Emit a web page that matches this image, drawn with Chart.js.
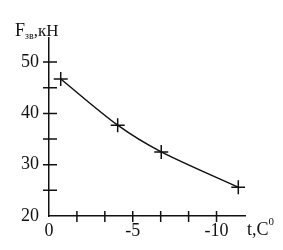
<!DOCTYPE html>
<html>
<head>
<meta charset="utf-8">
<script src="https://cdn.jsdelivr.net/npm/chart.js@4/dist/chart.umd.min.js"></script>
<style>
  html, body { margin: 0; padding: 0; background: #fff; }
  #wrap { width: 283px; height: 250px; }
</style>
</head>
<body>
<div id="wrap"><canvas id="chart" width="283" height="250"></canvas></div>
<script>
// Données
const tempC = [-0.7, -4.1, -6.7, -11.3];
const forceKN = [46.7, 37.7, 32.5, 25.6];

// Graduations
const yTicks = [20, 25, 30, 35, 40, 45, 50];
const yTickLabels = ['20', '', '30', '', '40', '', '50'];
const xTicks = [0, -5 / 3, -10 / 3, -5, -20 / 3, -25 / 3, -10];
const xTickLabels = ['0', '', '', '-5', '', '', '-10'];

const INK = '#111';
const FONT = 'Liberation Serif';

// Petites croix des graduations + titres des axes
const axisDecor = {
    id: 'axisDecor',
    afterDraw(chart) {
        const ctx = chart.ctx;
        const xs = chart.scales.x, ys = chart.scales.y;
        const area = chart.chartArea;
        ctx.save();
        ctx.strokeStyle = INK;
        ctx.lineWidth = 1.5;
        ctx.beginPath();
        yTicks.forEach(v => {
            const py = ys.getPixelForValue(v);
            if (v === yTicks[0]) return;
            ctx.moveTo(area.left - 6, py);
            ctx.lineTo(area.left + 8, py);
        });
        xTicks.forEach(v => {
            const px = xs.getPixelForValue(v);
            if (v === 0) return;
            ctx.moveTo(px, area.bottom - 5);
            ctx.lineTo(px, area.bottom + 6);
        });
        ctx.stroke();

        ctx.fillStyle = INK;
        ctx.textBaseline = 'alphabetic';
        ctx.textAlign = 'left';
        // F зв, кН
        let x = area.left - 34;
        const yb = area.top - 2;
        ctx.font = '18px "' + FONT + '"';
        ctx.fillText('F', x, yb);
        x += ctx.measureText('F').width;
        ctx.font = '10px "' + FONT + '"';
        ctx.fillText('зв', x, yb + 3);
        x += ctx.measureText('зв').width;
        ctx.font = '17px "' + FONT + '"';
        ctx.fillText(',кН', x, yb);

        // t, C0
        let tx = area.right + 2;
        const tb = area.bottom + 19;
        ctx.font = '18px "' + FONT + '"';
        ctx.fillText('t,C', tx, tb);
        tx += ctx.measureText('t,C').width;
        ctx.font = '11px "' + FONT + '"';
        ctx.fillText('0', tx, tb - 10);
        ctx.restore();
    }
};

new Chart(document.getElementById('chart'), {
    type: 'line',
    data: {
        datasets: [{
            data: tempC.map((t, i) => ({ x: t, y: forceKN[i] })),
            borderColor: INK,
            borderWidth: 1.5,
            tension: 0.3,
            pointStyle: 'cross',
            pointRadius: 7,
            pointBorderWidth: 1.5,
            pointBorderColor: INK,
            fill: false
        }]
    },
    options: {
        responsive: false,
        animation: false,
        devicePixelRatio: 1,
        layout: { padding: { left: 0, top: 38, right: 38, bottom: 0 } },
        plugins: { legend: { display: false }, tooltip: { enabled: false } },
        scales: {
            x: {
                type: 'linear',
                reverse: true,
                min: -11.7,
                max: 0,
                afterBuildTicks: s => { s.ticks = xTicks.map(v => ({ value: v })); },
                afterFit: s => { s.height = 34; },
                grid: { display: false, drawTicks: false },
                border: { display: true, color: INK, width: 1.5 },
                ticks: {
                    autoSkip: false,
                    maxRotation: 0,
                    padding: 4,
                    color: INK,
                    font: { family: FONT, size: 18 },
                    callback: (v, i) => xTickLabels[i]
                }
            },
            y: {
                min: 20,
                max: 54.7,
                afterBuildTicks: s => { s.ticks = yTicks.map(v => ({ value: v })); },
                afterFit: s => { s.width = 49; },
                grid: { display: false, drawTicks: false },
                border: { display: true, color: INK, width: 1.5 },
                ticks: {
                    autoSkip: false,
                    padding: 10,
                    color: INK,
                    font: { family: FONT, size: 18 },
                    callback: (v, i) => yTickLabels[i]
                }
            }
        }
    },
    plugins: [axisDecor]
});
</script>
</body>
</html>
